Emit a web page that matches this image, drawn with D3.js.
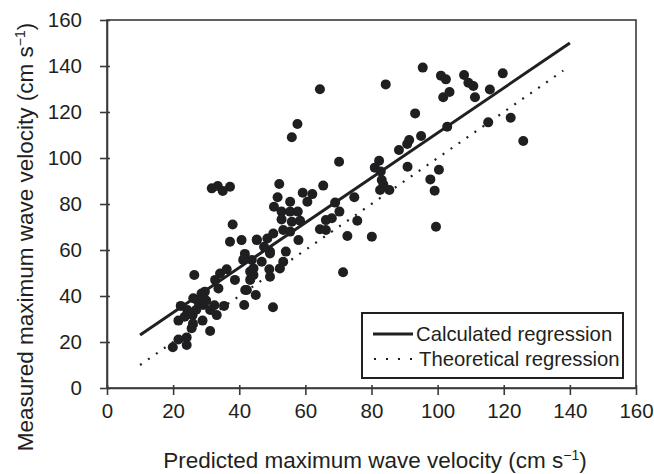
<!DOCTYPE html>
<html>
<head>
<meta charset="utf-8">
<script src="https://cdn.jsdelivr.net/npm/d3@7/dist/d3.min.js"></script>
<style>
  body { margin: 0; background: #fff; }
  text { font-family: "Liberation Sans", Arial, sans-serif; fill: #231f20; }
</style>
</head>
<body>
<svg id="chart" width="654" height="474"></svg>
<script>
// predicted (x) / measured (y) wave velocity, cm s-1
var predicted = [
  19.9, 21.6, 24.1, 24.1, 25.6, 21.6, 22.3, 24.3, 25.9, 26.1, 28.6, 27.6, 29.1, 28.9,
  31.2, 31.2, 33.2, 35.4, 26.4, 23.5, 27.0, 30.0, 32.5, 29.6, 32.7, 33.7, 26.0,
  34.2, 36.2, 38.7, 41.8, 41.5, 45.0, 37.2, 40.7, 45.3, 41.7, 41.2, 43.8, 43.3, 43.3,
  38.0, 44.3, 46.8, 42.3, 49.3, 49.3, 50.2, 48.5, 47.5, 49.3, 45.3, 44.3,
  52.1, 51.6, 59.2, 62.1, 60.6, 55.4, 50.5, 52.8, 55.4, 57.7, 52.8, 55.9, 58.4, 69.0,
  70.3, 68.0, 66.2, 74.8, 64.4, 66.2, 72.7, 71.4, 53.3, 55.4, 50.3, 57.9, 54.1, 53.3,
  52.3, 49.1, 65.4, 75.7, 80.1, 70.2, 64.4, 57.6, 55.9, 31.7, 33.5, 35.0, 37.2,
  82.3, 81.0, 82.8, 83.1, 83.6, 82.6, 85.4, 90.9, 88.3, 90.8, 91.4, 95.0, 93.2, 84.3,
  95.5, 100.4, 97.8, 99.1, 99.5, 102.9, 101.7, 103.6, 101.0, 102.5, 108.0, 109.3,
  110.8, 111.3, 115.8, 119.7, 115.3, 122.1, 125.9
];
var measured = [
  17.7, 21.1, 18.7, 22.0, 26.0, 29.3, 35.7, 33.9, 31.7, 39.0, 41.1, 37.5, 36.1, 29.3,
  24.8, 33.9, 31.7, 35.7, 49.1, 31.0, 34.0, 38.0, 36.0, 41.9, 47.0, 43.3, 28.0,
  49.8, 51.6, 47.0, 42.6, 36.1, 40.4, 63.6, 64.3, 64.3, 58.3, 55.7, 55.7, 50.6, 47.0,
  71.1, 52.0, 54.9, 42.6, 48.4, 59.3, 35.1, 65.0, 61.4, 58.5, 64.6, 49.1,
  88.7, 82.9, 84.9, 84.3, 81.0, 81.0, 78.8, 76.7, 76.7, 76.7, 73.3, 72.3, 72.7, 80.6,
  76.7, 73.8, 73.0, 82.9, 69.0, 68.7, 66.1, 50.3, 68.7, 68.0, 67.2, 64.3, 59.3, 54.9,
  52.0, 51.6, 88.0, 72.7, 65.8, 98.4, 129.9, 114.8, 109.0, 86.8, 87.8, 85.7, 87.5,
  98.8, 95.8, 94.1, 90.4, 88.3, 86.1, 86.1, 96.2, 103.5, 106.1, 107.8, 109.6, 119.4, 132.0,
  139.3, 94.9, 90.7, 85.8, 70.1, 113.6, 126.4, 128.7, 135.8, 134.2, 136.1, 132.7,
  131.3, 126.4, 129.8, 136.8, 115.5, 117.5, 107.4
];
var calcLine = [[10, 23], [140, 150]];
var theoLine = [[10, 10], [138, 138]];
var xTicks = [0, 20, 40, 60, 80, 100, 120, 140, 160];
var yTicks = [0, 20, 40, 60, 80, 100, 120, 140, 160];
var legendLabels = ["Calculated regression", "Theoretical regression"];

var margin = { top: 20, right: 18, bottom: 86, left: 107 };
var width = 654 - margin.left - margin.right;
var height = 474 - margin.top - margin.bottom;

var svg = d3.select("#chart");
var g = svg.append("g")
  .attr("transform", "translate(" + margin.left + "," + margin.top + ")");

var x = d3.scaleLinear().domain([0, 160]).range([0, width]);
var y = d3.scaleLinear().domain([0, 160]).range([height, 0]);

// frame
g.append("rect")
  .attr("width", width)
  .attr("height", height)
  .attr("fill", "none")
  .attr("stroke", "#3a3a3a")
  .attr("stroke-width", 1.6);

// axes
var xAxis = g.append("g")
  .attr("transform", "translate(0," + height + ")")
  .call(d3.axisBottom(x).tickValues(xTicks).tickSize(7).tickSizeOuter(0).tickPadding(8));
var yAxis = g.append("g")
  .call(d3.axisLeft(y).tickValues(yTicks).tickSize(7).tickSizeOuter(0).tickPadding(18));

[xAxis, yAxis].forEach(function(ax) {
  ax.select(".domain").attr("stroke", "#3a3a3a").attr("stroke-width", 1.6);
  ax.selectAll(".tick line").attr("stroke", "#3a3a3a").attr("stroke-width", 1.6);
  ax.selectAll(".tick text")
    .style("font-size", "20.5px")
    .attr("fill", "#231f20");
});
// ticks cross the axis line
xAxis.selectAll(".tick line").attr("y1", -3);
yAxis.selectAll(".tick line").attr("x1", 3);

// regression lines
var line = d3.line().x(function(d) { return x(d[0]); }).y(function(d) { return y(d[1]); });

g.append("path")
  .datum(theoLine)
  .attr("d", line)
  .attr("fill", "none")
  .attr("stroke", "#231f20")
  .attr("stroke-width", 2.2)
  .attr("stroke-dasharray", "2,7.7");

g.append("path")
  .datum(calcLine)
  .attr("d", line)
  .attr("fill", "none")
  .attr("stroke", "#231f20")
  .attr("stroke-width", 3);

// points
g.selectAll("circle.pt")
  .data(predicted)
  .enter()
  .append("circle")
  .attr("class", "pt")
  .attr("cx", function(d) { return x(d); })
  .attr("cy", function(d, i) { return y(measured[i]); })
  .attr("r", 5)
  .attr("fill", "#1f1f21");

// legend
var lg = g.append("g").attr("transform", "translate(" + (width - 274) + "," + (height - 75) + ")");
lg.append("rect")
  .attr("width", 261)
  .attr("height", 65)
  .attr("fill", "#fff")
  .attr("stroke", "#231f20")
  .attr("stroke-width", 2);
lg.append("line")
  .attr("x1", 11).attr("x2", 51).attr("y1", 21).attr("y2", 21)
  .attr("stroke", "#231f20").attr("stroke-width", 3);
lg.append("line")
  .attr("x1", 12).attr("x2", 51).attr("y1", 46).attr("y2", 46)
  .attr("stroke", "#231f20").attr("stroke-width", 2)
  .attr("stroke-dasharray", "2,10");
lg.selectAll("text.lab")
  .data(legendLabels)
  .enter()
  .append("text")
  .attr("class", "lab")
  .attr("x", function(d, i) { return i === 0 ? 54 : 57; })
  .attr("y", function(d, i) { return 21 + i * 25; })
  .attr("dy", "0.35em")
  .style("font-size", "20.3px")
  .text(function(d) { return d; });

// axis titles
var xt = svg.append("text")
  .attr("x", 375)
  .attr("y", 468)
  .attr("text-anchor", "middle")
  .style("font-size", "22.5px");
xt.append("tspan").text("Predicted maximum wave velocity (cm s");
xt.append("tspan").attr("dy", -8).style("font-size", "14px").text("\u22121");
xt.append("tspan").attr("dy", 8).text(")");

var yt = svg.append("text")
  .attr("transform", "translate(33," + (margin.top + height / 2 + 33) + ") rotate(-90)")
  .attr("text-anchor", "middle")
  .style("font-size", "22.5px");
yt.append("tspan").text("Measured maximum wave velocity (cm s");
yt.append("tspan").attr("dy", -8).style("font-size", "14px").text("\u22121");
yt.append("tspan").attr("dy", 8).text(")");
</script>
</body>
</html>
